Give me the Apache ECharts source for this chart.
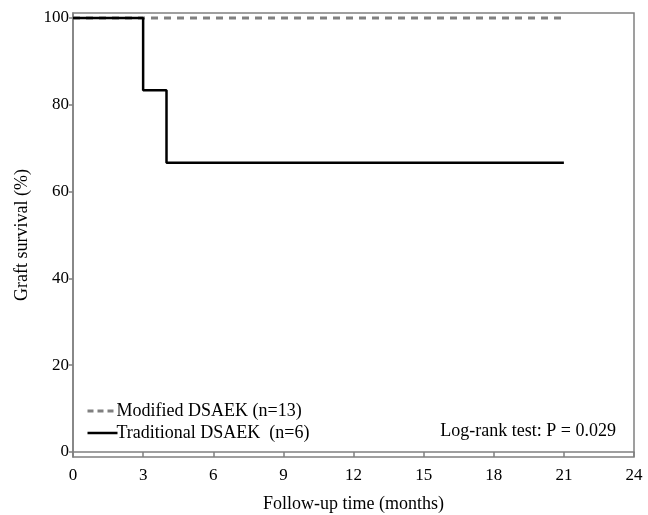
<!DOCTYPE html>
<html>
<head>
<meta charset="utf-8">
<script src="https://cdn.jsdelivr.net/npm/echarts@6/dist/echarts.min.js"></script>
<style>html,body{margin:0;padding:0;background:#fff}#c{width:648px;height:515px}</style>
</head>
<body>
<div id="c"></div>
<script>
var xTicks = [0, 3, 6, 9, 12, 15, 18, 21, 24];
var yTicks = [0, 20, 40, 60, 80, 100];
var modifiedName = 'Modified DSAEK (n=13)';
var traditionalName = 'Traditional DSAEK  (n=6)';
var modifiedTimes = [0, 21];
var modifiedSurvival = [100, 100];
var traditionalTimes = [0, 3, 4, 21];
var traditionalSurvival = [100, 83.33, 66.67, 66.67];
var pText = 'Log-rank test: P = 0.029';

var FONT = '"Liberation Serif", "Times New Roman", serif';
function pairs(xs, ys) { return xs.map(function (x, i) { return [x, ys[i]]; }); }

var chart = echarts.init(document.getElementById('c'), null, { renderer: 'canvas' });
chart.setOption({
  animation: false,
  backgroundColor: '#fff',
  textStyle: { fontFamily: FONT },
  grid: { left: 73, right: 14, top: 13, bottom: 58, outerBoundsMode: 'none', containLabel: false, show: true, borderColor: '#808080', borderWidth: 1.5, backgroundColor: 'transparent' },
  legend: {
    orient: 'vertical', left: 81, top: 397, itemWidth: 30, itemHeight: 12, itemGap: 4,
    itemStyle: { opacity: 0, borderWidth: 0 },
    textStyle: { fontFamily: FONT, fontSize: 18, color: '#000', padding: [0, 0, 0, -6] },
    data: [
      { name: modifiedName, lineStyle: { width: 3, type: [6, 4], color: '#808080' } },
      { name: traditionalName, lineStyle: { width: 2.5, type: 'solid', color: '#000' } }
    ]
  },
  title: {
    text: pText, right: 27, top: 417,
    textStyle: { fontFamily: FONT, fontSize: 18, fontWeight: 'normal', color: '#000' }
  },
  xAxis: {
    type: 'value', min: 0, max: 24, interval: 3,
    name: 'Follow-up time (months)', nameLocation: 'middle', nameGap: 38,
    nameTextStyle: { fontFamily: FONT, fontSize: 18, color: '#000' },
    axisLine: { show: true, lineStyle: { color: '#808080', width: 1.5 } },
    axisTick: { show: true, length: 5, lineStyle: { color: '#808080', width: 1.5 } },
    axisLabel: { fontFamily: FONT, fontSize: 17, color: '#000', margin: 10, formatter: function (v) { return xTicks.indexOf(v) >= 0 ? String(v) : ''; } },
    splitLine: { show: false }
  },
  yAxis: {
    type: 'value', min: -1.15, max: 101.15,
    name: 'Graft survival (%)', nameLocation: 'middle', nameGap: 42, nameRotate: 90,
    nameTextStyle: { fontFamily: FONT, fontSize: 18, color: '#000' },
    axisLine: { show: true, lineStyle: { color: '#808080', width: 1.5 } },
    axisTick: { show: true, length: 4, customValues: yTicks, lineStyle: { color: '#808080', width: 1.5 } },
    axisLabel: { fontFamily: FONT, fontSize: 17, color: '#000', margin: 4, customValues: yTicks },
    splitLine: { show: false }
  },
  series: [
    {
      name: modifiedName, type: 'line', symbol: 'none', step: 'end',
      data: pairs(modifiedTimes, modifiedSurvival),
      lineStyle: { color: '#808080', width: 3, type: [7, 6] },
      itemStyle: { color: '#808080' }, z: 3
    },
    {
      name: traditionalName, type: 'line', symbol: 'none', step: 'end',
      data: pairs(traditionalTimes, traditionalSurvival),
      lineStyle: { color: '#000', width: 2.5 },
      itemStyle: { color: '#000' }, z: 4
    }
  ]
});
</script>
</body>
</html>
